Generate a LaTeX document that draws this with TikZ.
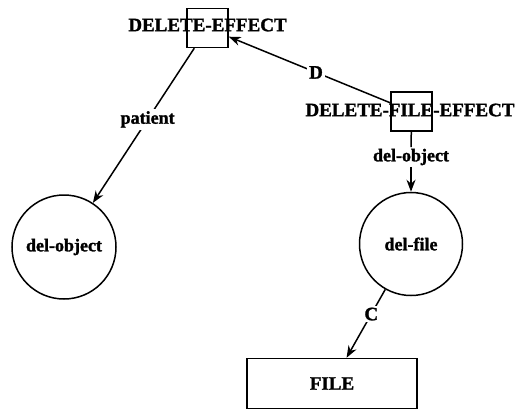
\documentclass[tikz,border=0pt]{standalone}
\usepackage{fontspec}
\setmainfont{Liberation Serif}[BoldFeatures={FakeBold=1.5}]
\usetikzlibrary{arrows.meta}
\begin{document}
\begin{tikzpicture}[x=1pt,y=-1pt,line width=1.5pt,>={Stealth[length=12pt,width=9pt]},
	big/.style={font=\fontsize{19}{21}\selectfont\bfseries, inner sep=0pt},
	small/.style={font=\fontsize{18}{20}\selectfont\bfseries, inner sep=1pt},
	sq/.style={draw, minimum width=41pt, minimum height=39pt, inner sep=0pt},
	ring/.style={draw, circle, small, inner sep=0pt},
	lbl/.style={small, fill=white, inner sep=2pt},
	rel/.style={big, fill=white, inner sep=2pt}]
%			\draw[step=50pt,red,very thin] (0,0) grid (516,410);
			\useasboundingbox (0,0) rectangle (516,410);

			\node[sq] (delEffBox) at (207.5,28) {};
			\node[big] (delEff) at (207.5,25) {DELETE-EFFECT};

			\node[sq] (delFileBox) at (411.5,111.5) {};
			\node[big] (delFileEff) at (410,110) {DELETE-FILE-EFFECT};

			\node[ring, minimum size=104pt] (delObj) at (64,247) {del-object};
			\node[ring, minimum size=103pt] (delFile) at (411,244) {del-file};
			\node[draw, big, minimum width=170pt, minimum height=50pt] (file) at (332,383.5) {FILE};

			\node[small] (delObjLbl) at (411,157) {del-object};

			\draw[->](delFileBox)--node[rel, pos=0.46]{D}(delEffBox);
			\draw[->](delEffBox)--node[lbl, pos=0.46]{patient}(delObj);

			\draw[-](delFileBox)--(delObjLbl);
			\draw[->](delObjLbl)--(delFile);

			\draw[->](delFile)--node[rel, pos=0.36]{C}(file);
	\end{tikzpicture}
\end{document}
